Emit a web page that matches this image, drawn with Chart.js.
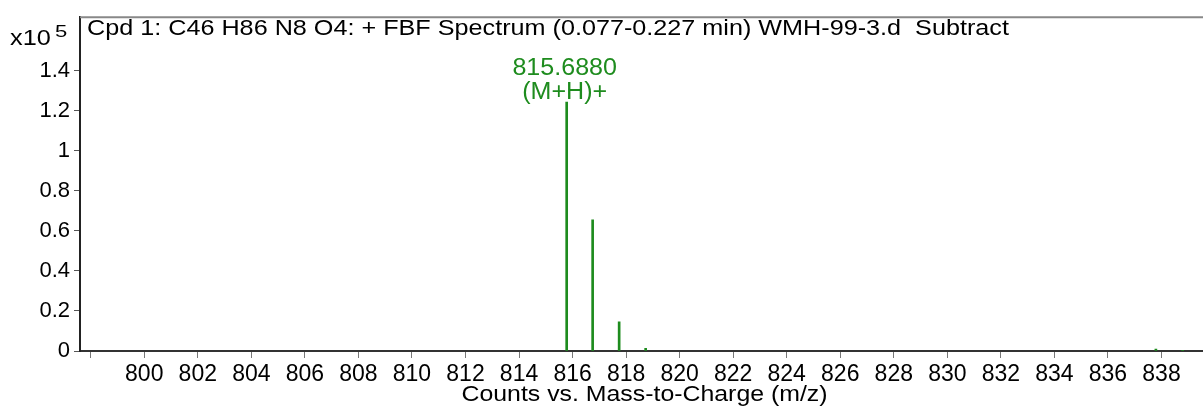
<!DOCTYPE html>
<html>
<head>
<meta charset="utf-8">
<script src="https://cdn.jsdelivr.net/npm/chart.js@4/dist/chart.umd.min.js"></script>
<style>
  html, body { margin: 0; padding: 0; background: #fff; }
  canvas { display: block; }
</style>
</head>
<body>
<canvas id="spec" width="1203" height="410"></canvas>
<script>
// peak list (counts in units of 10^5)
const peakMz = [815.78, 816.75, 817.74, 818.73, 837.79, 838.79];
const peakCounts = [1.244, 0.655, 0.146, 0.013, 0.010, 0.002];

const xTicks = [798, 800, 802, 804, 806, 808, 810, 812, 814, 816, 818, 820, 822, 824, 826, 828, 830, 832, 834, 836, 838];
const xTickLabels = ['', '800', '802', '804', '806', '808', '810', '812', '814', '816', '818', '820', '822', '824', '826', '828', '830', '832', '834', '836', '838'];
const yTicks = [0, 0.2, 0.4, 0.6, 0.8, 1, 1.2, 1.4];
const yTickLabels = ['0', '0.2', '0.4', '0.6', '0.8', '1', '1.2', '1.4'];

const titleText = 'Cpd 1: C46 H86 N8 O4: + FBF Spectrum (0.077-0.227 min) WMH-99-3.d  Subtract';
const xAxisTitle = 'Counts vs. Mass-to-Charge (m/z)';
const peakLabel = ['815.6880', '(M+H)+'];
const green = '#1e8c1e';
const font = 'Liberation Sans, Arial, sans-serif';

const ctx = document.getElementById('spec').getContext('2d');

// text in the original is a bit wider than Arial, so stretch it sideways
function wideText(c, txt, x, y, size, align, sx) {
    c.save();
    c.font = size + 'px ' + font;
    c.textBaseline = 'middle';
    c.textAlign = align;
    c.translate(x, y);
    c.scale(sx, 1);
    c.fillText(txt, 0, 0);
    c.restore();
}

// frame top line, title, exponent, axis title, peak annotation
const extras = {
    id: 'extras',
    afterDraw(chart) {
        const c = chart.ctx;
        const a = chart.chartArea;
        c.save();
        c.strokeStyle = '#888';
        c.lineWidth = 2;
        c.beginPath();
        c.moveTo(a.left, a.top);
        c.lineTo(chart.width, a.top);
        c.stroke();

        c.fillStyle = '#000';
        wideText(c, titleText, a.left + 7, 29, 22, 'left', 1.145);
        wideText(c, 'x10', 10, 39, 22, 'left', 1.15);
        wideText(c, '5', 55, 32, 17, 'left', 1.3);
        wideText(c, xAxisTitle, (a.left + a.right) / 2 + 3, 395, 22, 'center', 1.13);

        // annotation above main peak
        const xs = chart.scales.x, ys = chart.scales.y;
        const px = xs.getPixelForValue(peakMz[0]);
        const py = ys.getPixelForValue(peakCounts[0]);
        c.fillStyle = green;
        wideText(c, peakLabel[0], px - 2, py - 33, 23, 'center', 1.09);
        wideText(c, peakLabel[1], px - 2, py - 9, 23, 'center', 1.09);
        c.restore();
    }
};

new Chart(ctx, {
    type: 'bar',
    data: {
        datasets: [{
            data: peakMz.map((m, i) => ({ x: m, y: peakCounts[i] })),
            backgroundColor: green,
            borderWidth: 0,
            barThickness: 2,
            grouped: false
        }]
    },
    options: {
        responsive: false,
        animation: false,
        layout: { padding: { top: 8, right: 0, left: 0, bottom: 0 } },
        plugins: {
            legend: { display: false },
            tooltip: { enabled: false }
        },
        scales: {
            x: {
                type: 'linear',
                offset: false,
                min: 797.6,
                max: 839.55,
                afterBuildTicks: (s) => { s.ticks = xTicks.map(v => ({ value: v })); },
                afterFit: (s) => { s.height = 59; },
                ticks: {
                    color: '#000',
                    font: { family: font, size: 23 },
                    padding: 3,
                    maxRotation: 0,
                    autoSkip: false,
                    callback: (v, i) => xTickLabels[i]
                },
                grid: {
                    display: true,
                    offset: false,
                    drawOnChartArea: false,
                    drawTicks: true,
                    tickLength: 7,
                    color: '#777'
                },
                border: { display: true, color: '#333', width: 2 },
                title: { display: false }
            },
            y: {
                min: 0,
                max: 1.668,
                afterBuildTicks: (s) => { s.ticks = yTicks.map(v => ({ value: v })); },
                afterFit: (s) => { s.width = 80; },
                ticks: {
                    color: '#000',
                    font: { family: font, size: 22 },
                    padding: 4,
                    callback: (v, i) => yTickLabels[i]
                },
                grid: {
                    display: true,
                    drawOnChartArea: false,
                    drawTicks: true,
                    tickLength: 6,
                    color: '#555'
                },
                border: { display: true, color: '#222', width: 2 }
            }
        }
    },
    plugins: [extras]
});
</script>
</body>
</html>
